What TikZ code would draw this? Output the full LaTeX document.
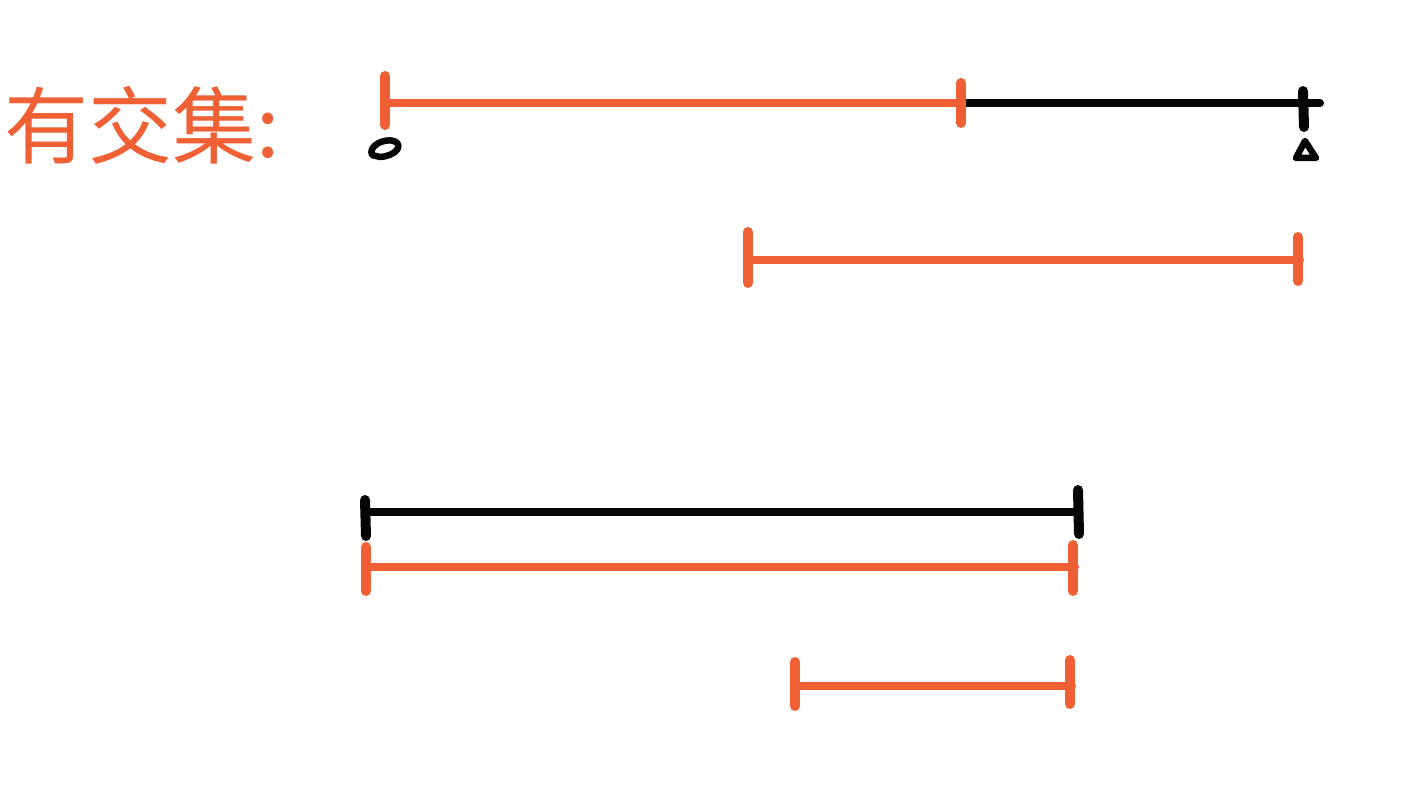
\documentclass[tikz,border=0pt]{standalone}
\usepackage{fontspec}
\newfontfamily\cjk{Noto Sans CJK SC}
\usetikzlibrary{calc}
\definecolor{corange}{HTML}{EF6035}
\definecolor{cblack}{HTML}{050505}
\tikzset{
  every picture/.style={line cap=round, line join=round},
  seg/.style={draw=#1, line width=8pt},
  seg/.default=corange,
  tickmark/.style={draw=#1, line width=10pt},
  tickmark/.default=corange,
  endmark/.style={draw=cblack, line width=6.5pt},
}
\begin{document}
\begin{tikzpicture}[x=1pt, y=-1pt]
  \useasboundingbox (0,0) rectangle (1422,802);
  % title
  \node[text=corange, font=\cjk\fontsize{84}{84}\selectfont, inner sep=0pt, anchor=west] (title) at (4,125) {有交集:};
  % end points
  \coordinate (a1) at (387,103); \coordinate (a2) at (963,103); \coordinate (a3) at (1320,103);
  \coordinate (b1) at (750,260); \coordinate (b2) at (1300,260);
  \coordinate (c1) at (366,512); \coordinate (c2) at (1078,512);
  \coordinate (d1) at (368,567); \coordinate (d2) at (1075,567);
  \coordinate (e1) at (797,686); \coordinate (e2) at (1072,686);
  % segments
  \draw[seg] (a1) -- (a2);
  \draw[seg=cblack] (a2) -- (a3);
  \draw[seg] (b1) -- (b2);
  \draw[seg=cblack] (c1) -- (c2);
  \draw[seg] (d1) -- (d2);
  \draw[seg] (e1) -- (e2);
  % end ticks
  \foreach \p/\u/\d in {a1/27/22, a2/20/20, b1/28/23, b2/23/21, d1/20/24, d2/22/24, e1/24/20, e2/26/18}
    \draw[tickmark] ($(\p)+(-2,-\u)$) -- ($(\p)+(-2,\d)$);
  \draw[tickmark=cblack] ($(c1)+(-1,-12)$) -- ($(c1)+(0,24)$);
  \draw[tickmark=cblack] ($(c2)+(0,-22)$) -- ($(c2)+(1,22)$);
  \draw[tickmark=cblack] ($(a3)+(-17,-12)$) -- ($(a3)+(-16,24)$);
  % small marks under the top line
  \draw[endmark] (372,155) .. controls (368,146) and (384,138) .. (394,141)
    .. controls (404,145) and (396,156) .. (380,157) -- cycle;
  \draw[endmark] (1305,141) -- (1316,158) -- (1296,158) -- cycle;
\end{tikzpicture}
\end{document}
